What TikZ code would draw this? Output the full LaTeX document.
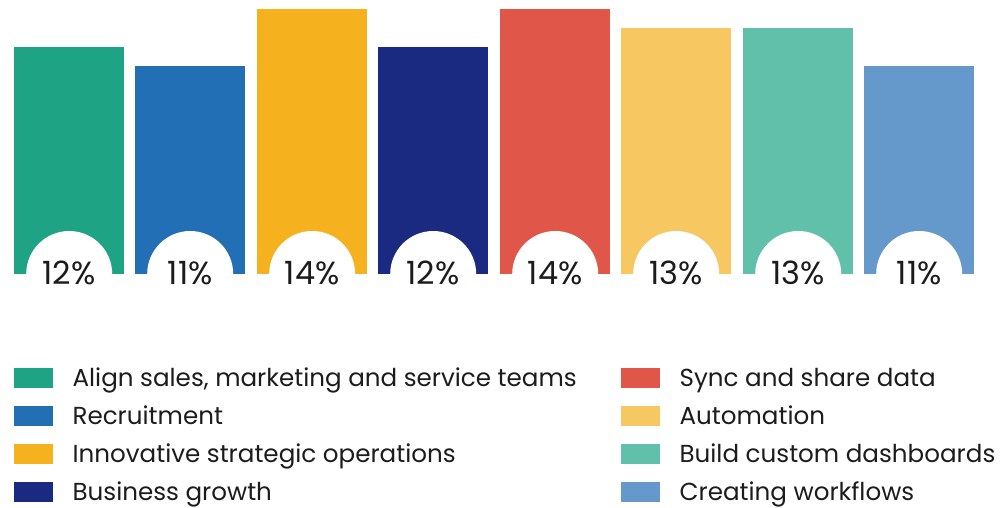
\documentclass[tikz,border=0pt]{standalone}
\usepackage{fontspec}
\setmainfont{Poppins}
\usetikzlibrary{positioning}

\definecolor{cAlign}{HTML}{1FA385}
\definecolor{cRecruit}{HTML}{236FB5}
\definecolor{cInnov}{HTML}{F6B11E}
\definecolor{cGrowth}{HTML}{1A2A80}
\definecolor{cSync}{HTML}{E0574A}
\definecolor{cAuto}{HTML}{F7C862}
\definecolor{cDash}{HTML}{61C0AA}
\definecolor{cFlow}{HTML}{6699CB}
\definecolor{ink}{HTML}{1C1C1C}

\begin{document}
\begin{tikzpicture}[x=1pt, y=-1pt,
  bar/.style = {rectangle, inner sep=0pt, minimum width=110pt, anchor=south west},
  notch/.style = {circle, fill=white, inner sep=0pt, minimum size=86pt},
  pct/.style = {font=\fontsize{32}{32}\selectfont, text=ink, anchor=base, inner sep=0pt},
  key/.style = {rectangle, inner sep=0pt, minimum width=39pt, minimum height=20pt},
  entry/.style = {font=\fontsize{24.6}{24.6}\selectfont, text=ink, anchor=base west, inner sep=0pt}]
  \useasboundingbox (0,0) rectangle (1000,507);

  % bars with a white notch and the share
  \foreach \x/\h/\c/\n/\p in {14/227/cAlign/align/12, 135/208/cRecruit/recruit/11,
      257/265/cInnov/innov/14, 378/227/cGrowth/growth/12,
      500/265/cSync/sync/14, 621/246/cAuto/auto/13,
      743/246/cDash/dash/13, 864/208/cFlow/flow/11}
  {
    \node[bar, fill=\c, minimum height=\h pt] (\n) at (\x,274) {};
    \node[notch] (\n-notch) at (\n.south) {};
    \node[pct] (\n-pct) at ([yshift=-10pt]\n.south) {\p\%};
  }

  % legend
  \foreach \x/\y/\c/\n/\t in {14/378/cAlign/align/{Align sales, marketing and service teams},
      14/416/cRecruit/recruit/Recruitment,
      14/454/cInnov/innov/Innovative strategic operations,
      14/492/cGrowth/growth/Business growth,
      621/378/cSync/sync/Sync and share data,
      621/416/cAuto/auto/Automation,
      621/454/cDash/dash/Build custom dashboards,
      621/492/cFlow/flow/Creating workflows}
  {
    \node[key, fill=\c, anchor=west] (\n-key) at (\x,\y) {};
    \node[entry] (\n-entry) at ([xshift=19pt, yshift=-8pt]\n-key.east) {\t};
  }
\end{tikzpicture}
\end{document}
